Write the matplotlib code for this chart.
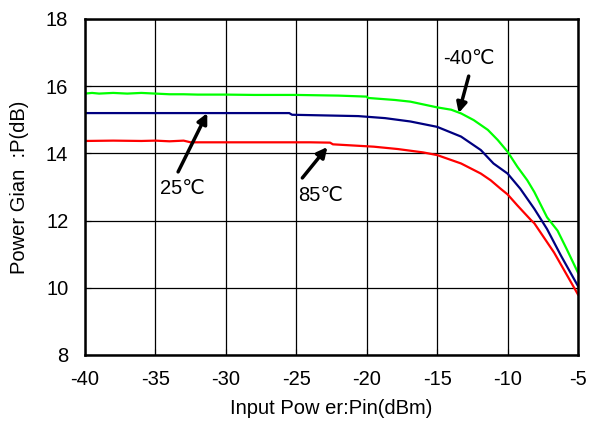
import matplotlib
matplotlib.use("Agg")
import matplotlib.pyplot as plt

plt.rcParams['font.family'] = ['Liberation Sans', 'DejaVu Sans']
plt.rcParams['axes.unicode_minus'] = False

# Input power (dBm) and gain (dB)
x_green = [-40, -39.5, -39, -38, -37, -36, -35, -34, -33, -32, -30, -28, -25, -22, -20, -19.9, -18, -16.9, -15,
           -14, -13.3, -12.4, -11.4, -10.7, -10, -9.3, -8.6, -8.1, -7.2, -6.45, -5.8, -5]
y_green = [15.78, 15.8, 15.78, 15.8, 15.78, 15.8, 15.78, 15.76, 15.76, 15.75, 15.75, 15.74, 15.74, 15.72, 15.69,
           15.65, 15.59, 15.54, 15.37, 15.3, 15.19, 14.99, 14.70, 14.4, 14.05, 13.6, 13.2, 12.85, 12.1, 11.7, 11.15, 10.45]

x_blue = [-40, -30, -25.5, -25.3, -20.6, -18.7, -16.9, -15, -13.3, -11.9, -11, -10, -9.1, -8.1, -7.2, -6.2, -5]
y_blue = [15.2, 15.2, 15.2, 15.15, 15.11, 15.05, 14.95, 14.79, 14.5, 14.1, 13.7, 13.4, 12.95, 12.35, 11.75, 10.95, 10.05]

x_red = [-40, -38, -36, -35, -34, -33, -32.5, -30, -28, -26, -24, -22.6, -22.4, -19.5, -17.8, -16, -15, -13.3,
         -11.9, -11.2, -10.5, -10, -9.3, -8.35, -8.1, -6.7, -5]
y_red = [14.37, 14.38, 14.37, 14.38, 14.36, 14.38, 14.33, 14.33, 14.33, 14.33, 14.33, 14.32, 14.27, 14.2, 14.13,
         14.03, 13.95, 13.7, 13.4, 13.2, 12.95, 12.78, 12.45, 12.02, 11.92, 11.05, 9.8]

x_ticks = [-40, -35, -30, -25, -20, -15, -10, -5]
y_ticks = [8, 10, 12, 14, 16, 18]

labels = ['-40℃', '25℃', '85℃']
text_xy = [(-12.76, 16.81), (-33.1, 12.97), (-23.3, 12.76)]
arrow_tail = [(-12.76, 16.30), (-33.39, 13.45), (-24.57, 13.27)]
arrow_head = [(-13.47, 15.2), (-31.32, 15.2), (-22.79, 14.19)]

fig = plt.figure(figsize=(5.92, 4.32), dpi=100)
ax = fig.add_axes([85/592, 1 - 355/432, (578-85)/592, (355-19)/432])

ax.plot(x_green, y_green, color='#00ff00', lw=1.6)
ax.plot(x_blue, y_blue, color='#000080', lw=1.6)
ax.plot(x_red, y_red, color='#ff0000', lw=1.6)

ax.set_xlim(-40, -5)
ax.set_ylim(8, 18)
ax.set_xticks(x_ticks)
ax.set_yticks(y_ticks)
ax.grid(True, color='black', lw=0.9)
ax.tick_params(direction='in', length=4, labelsize=14.5, color='black')
ax.tick_params(axis='y', pad=12)
ax.tick_params(axis='x', pad=11)
for s in ax.spines.values():
    s.set_linewidth(1.8)

ax.set_xlabel('Input Pow er:Pin(dBm)', fontsize=14.5, labelpad=7)
ax.set_ylabel('Power Gian  :P(dB)', fontsize=14.5, labelpad=12)

for lab, txy in zip(labels, text_xy):
    ax.text(txy[0], txy[1], lab, fontsize=14.5, ha='center', va='center')
for tail, head in zip(arrow_tail, arrow_head):
    ax.annotate('', xy=head, xytext=tail,
                arrowprops=dict(arrowstyle='-|>', color='black', lw=2.5, mutation_scale=15,
                                shrinkA=0, shrinkB=0))

fig.savefig('out.png', dpi=100)
